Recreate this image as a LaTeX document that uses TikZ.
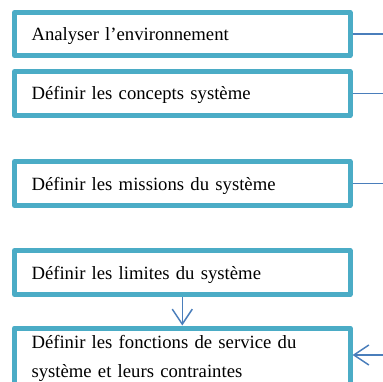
\documentclass[tikz,border=0pt]{standalone}
\usepackage{fontspec}
\setmainfont{Liberation Serif}
\usetikzlibrary{arrows.meta}
\definecolor{boxteal}{RGB}{75,172,198}
\definecolor{linkblue}{RGB}{74,126,187}

\begin{document}
\begin{tikzpicture}[x=1pt, y=-1pt, >={Straight Barb[length=15pt,width=20pt]},
    every node/.style={font=\fontsize{18.7}{29}\selectfont},
    stage/.style={draw=boxteal, line width=5pt, line join=round, fill=white,
      text width=301.5pt, align=left, inner xsep=17pt, inner ysep=0pt, minimum height=44pt},
    oneline/.style={stage, text height=16pt, text depth=3pt},
    link/.style={draw=linkblue, line width=1.5pt}]
  \useasboundingbox (0,0) rectangle (382,382);

  % stages
  \node[oneline, minimum height=43pt] (analyse) at (182.25,34) {Analyser l’environnement};
  \node[oneline] (concepts) at (182.25,93.5) {Définir les concepts système};
  \node[oneline] (missions) at (182.25,183.5) {Définir les missions du système};
  \node[oneline] (limites) at (182.25,272.5) {Définir les limites du système};
  \node[stage, anchor=north, minimum height=61.2pt] (fonctions) at (182.25,325.5)
    {Définir les fonctions de service du\\système et leurs contraintes};

  % links
  \coordinate (rim) at (383,0);
  \coordinate (feed) at (383,355);
  \draw[link] (analyse.east) -- (analyse.east -| rim);
  \draw[link] (concepts.east) -- (concepts.east -| rim);
  \draw[link] (missions.east) -- (missions.east -| rim);
  \draw[link, ->] (limites.south) -- (fonctions.north);
  \draw[link, ->] (feed) -- (feed -| fonctions.east);
\end{tikzpicture}
\end{document}
